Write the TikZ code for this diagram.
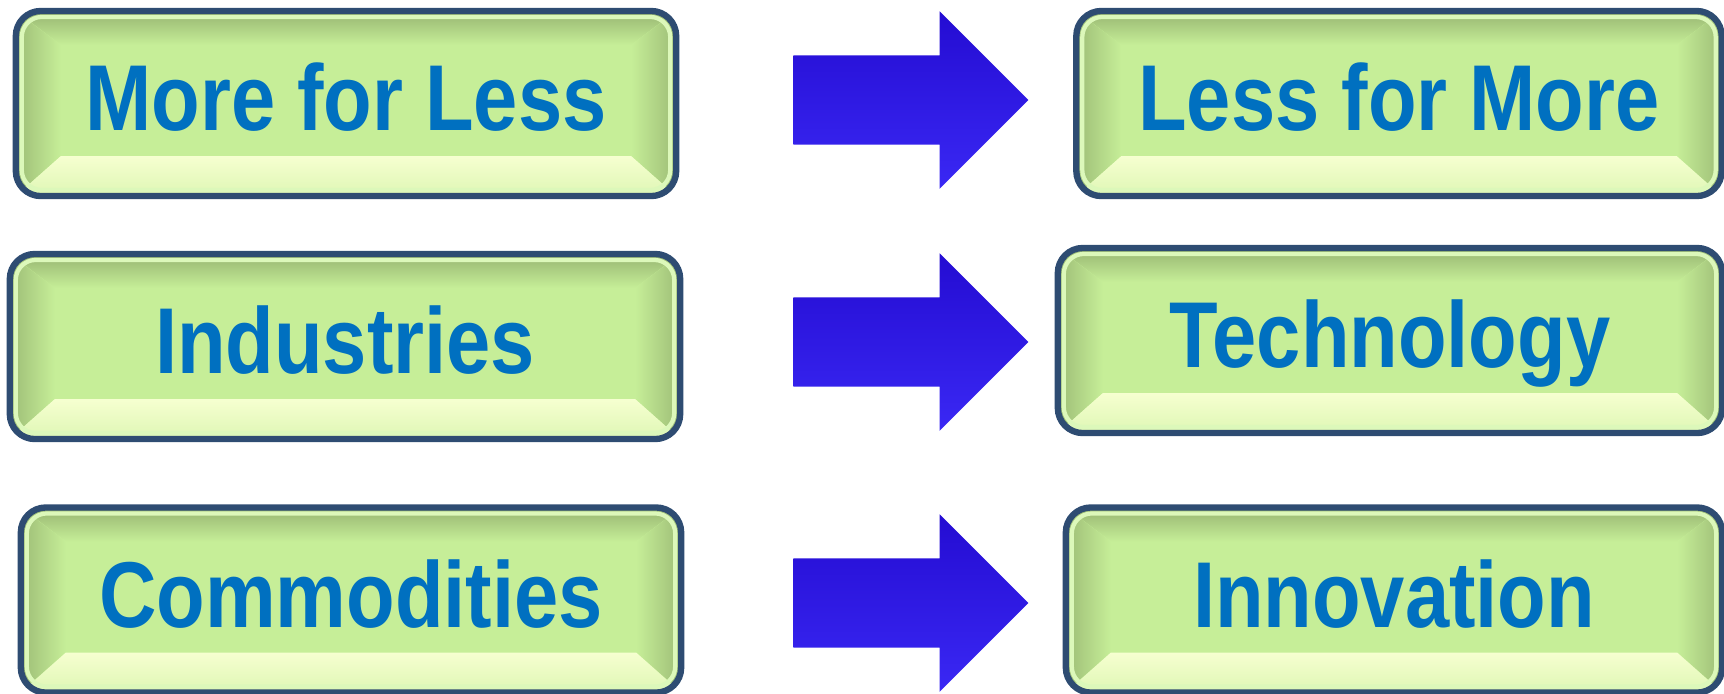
\documentclass[tikz,border=0pt]{standalone}
\usepackage{fontspec}
\newfontfamily\btnfont{Liberation Sans}[FakeStretch=0.85]
\usepackage{xcolor}
\usepackage{tikz}
\usetikzlibrary{shapes,arrows,positioning,calc}

\definecolor{btnmid}{RGB}{198,238,152}
\definecolor{btnhi}{RGB}{246,255,208}
\definecolor{btntop}{RGB}{150,180,112}
\definecolor{btnrim}{RGB}{220,248,186}
\definecolor{btnedge}{RGB}{46,76,114}
\definecolor{txtblue}{RGB}{0,112,192}
\definecolor{arrowtop}{RGB}{36,12,210}
\definecolor{arrowbot}{RGB}{58,40,244}

\tikzset{
  box/.style={rectangle, rounded corners=0.25cm, draw=btnedge, line width=1.8pt,
    fill=btnmid, text=txtblue, minimum height=1.85cm,
    text height=0.68cm, text depth=0.14cm,
    font=\btnfont\bfseries\fontsize{26.6}{30}\selectfont,
    path picture={
      \coordinate (nw) at (path picture bounding box.north west);
      \coordinate (ne) at (path picture bounding box.north east);
      \coordinate (sw) at (path picture bounding box.south west);
      \coordinate (se) at (path picture bounding box.south east);
      % bevel bands
      \fill[sharp corners, top color=btntop, bottom color=btnmid] (nw) -- (ne)
        -- ($(ne)+(-0.45cm,-0.34cm)$) -- ($(nw)+(0.45cm,-0.34cm)$) -- cycle;
      \fill[sharp corners, left color=btntop!85!btnmid, right color=btnmid] (nw)
        -- ($(nw)+(0.45cm,-0.34cm)$) -- ($(sw)+(0.45cm,0.4cm)$) -- (sw) -- cycle;
      \fill[sharp corners, right color=btntop!85!btnmid, left color=btnmid] (ne)
        -- ($(ne)+(-0.45cm,-0.34cm)$) -- ($(se)+(-0.45cm,0.4cm)$) -- (se) -- cycle;
      \fill[sharp corners, top color=btnhi, bottom color=btnhi!50!btnmid] (sw)
        -- ($(sw)+(0.45cm,0.4cm)$) -- ($(se)+(-0.45cm,0.4cm)$) -- (se) -- cycle;
      \draw[btnrim, line width=1.2pt, rounded corners=0.2cm]
        ($(nw)+(0.06cm,-0.06cm)$) rectangle ($(se)+(-0.06cm,0.06cm)$);
    }},
  bigarrow/.style={single arrow, single arrow head extend=0.44cm,
    single arrow tip angle=90, inner xsep=0pt, inner ysep=0.44cm,
    minimum height=2.35cm, top color=arrowtop, bottom color=arrowbot}
}

\begin{document}
\begin{tikzpicture}[x=0.01cm, y=-0.01cm]
    \useasboundingbox (0,0) rectangle (1724,693);

    \node[box, minimum width=6.6cm] (A) at (346,103.5) {More for Less};
    \node[box, minimum width=6.7cm] (B) at (345,346.5) {Industries};
    \node[box, minimum width=6.6cm] (C) at (351,600) {Commodities};

    \node[box, minimum width=6.45cm] (D) at (1399,103.5) {Less for More};
    \node[box, minimum width=6.64cm] (E) at (1390,340.5) {Technology};
    \node[box, minimum width=6.56cm] (F) at (1394,600) {Innovation};

    \node[bigarrow] (P) at (888.5,100) {};
    \node[bigarrow] (Q) at (888.5,342) {};
    \node[bigarrow] (R) at (888.5,603) {};
\end{tikzpicture}
\end{document}
